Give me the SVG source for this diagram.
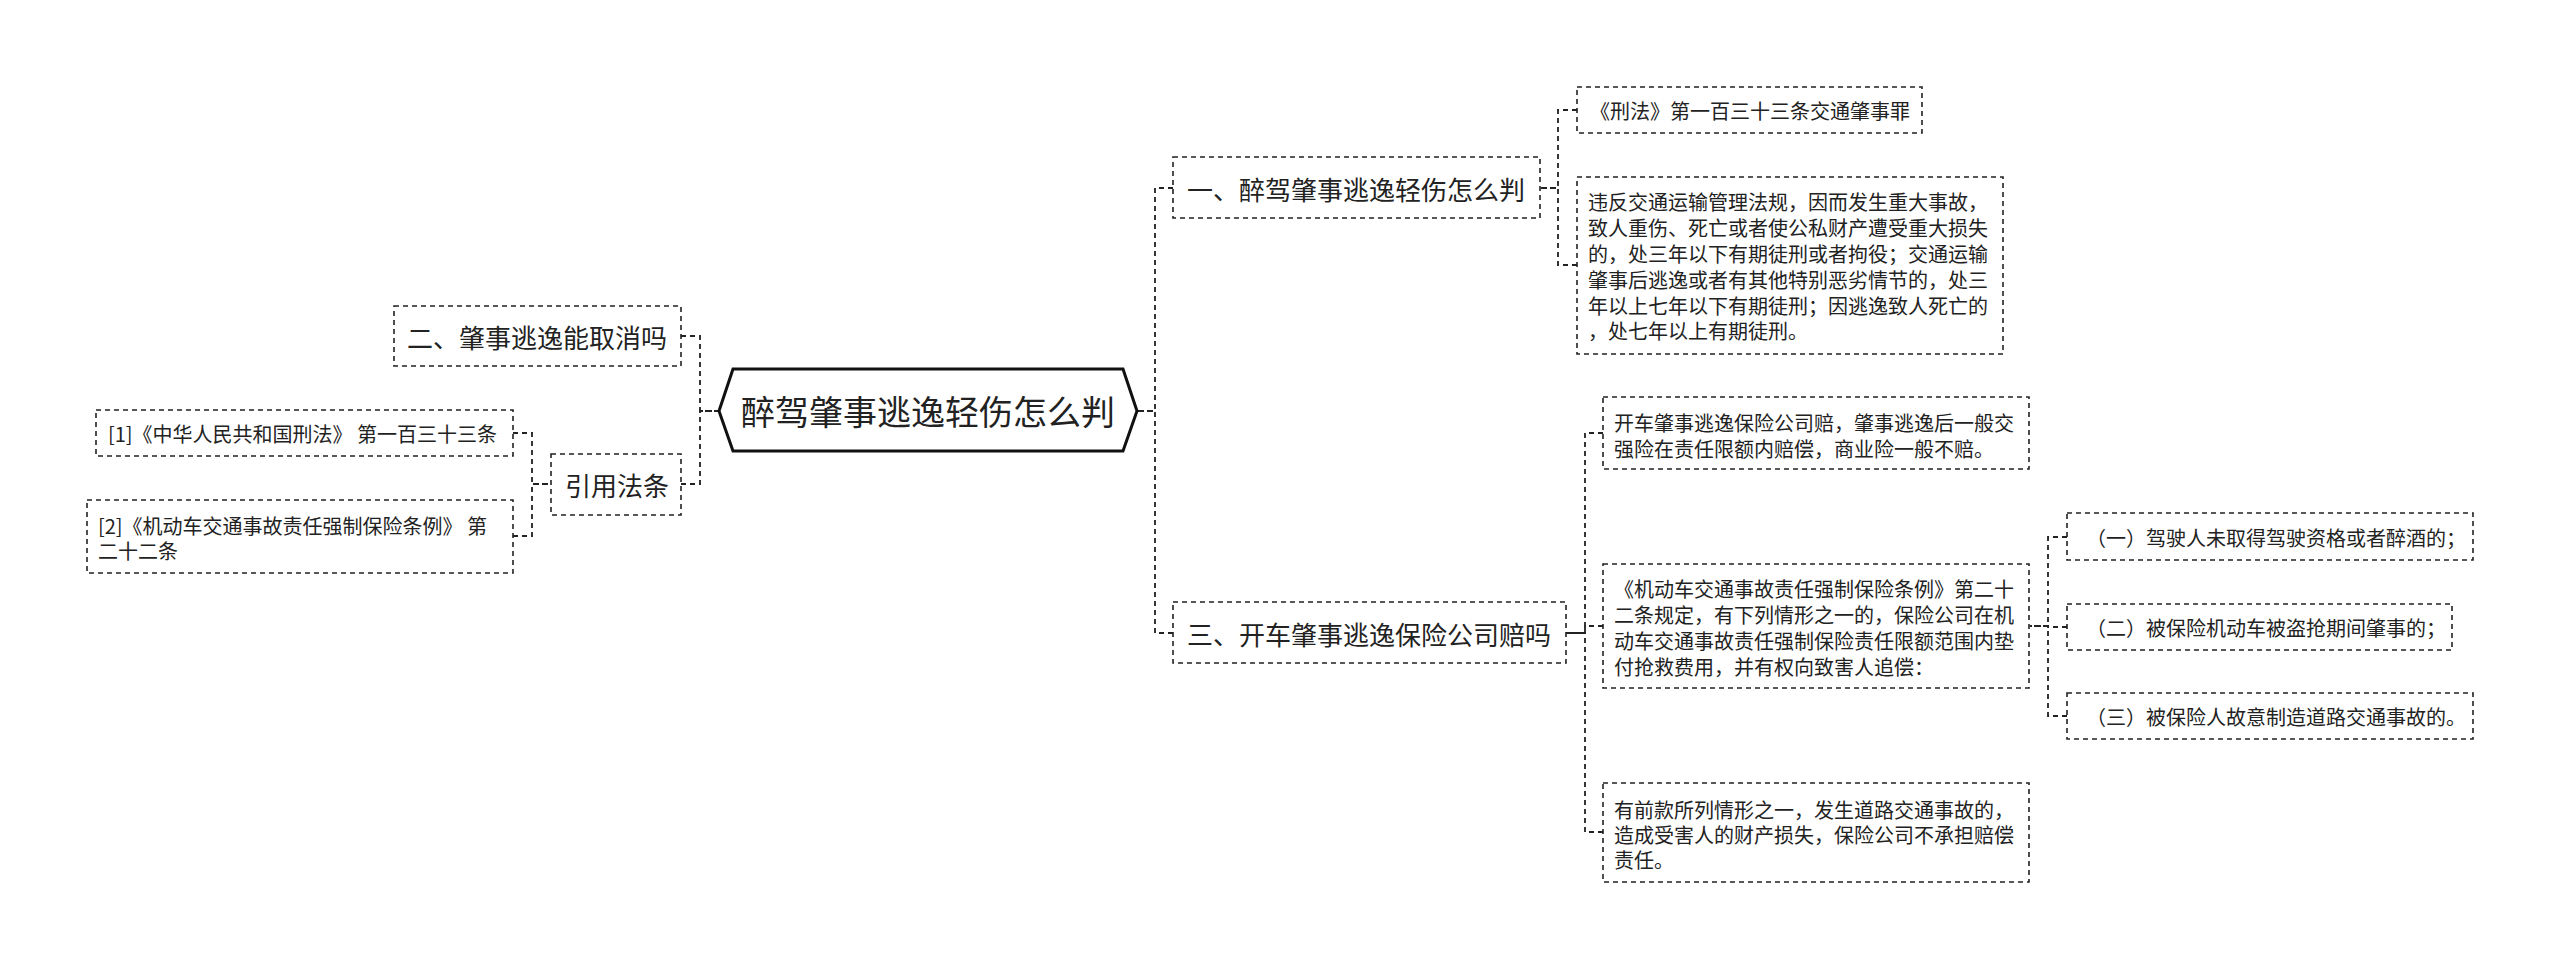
<svg xmlns="http://www.w3.org/2000/svg" width="2560" height="969" viewBox="0 0 2560 969">
<style>
.bg{fill:#ffffff}
.box{fill:#ffffff;stroke:#222;stroke-width:1.6;stroke-dasharray:5 4}
.root{fill:#ffffff;stroke:#111;stroke-width:3}
.conn{fill:none;stroke:#222;stroke-width:1.8;stroke-dasharray:5 4}
text{font-family:"Noto Sans CJK SC","Noto Sans",sans-serif;fill:#222;dominant-baseline:central}
.t34{font-size:34px}
.t26{font-size:26px}
.t20{font-size:20px}
</style>
<rect class="bg" x="0" y="0" width="2560" height="969"/>
<g id="connectors">
<path class="conn" d="M681,336 H700 V411 H719"/>
<path class="conn" d="M681,484 H700 V411 H719"/>
<path class="conn" d="M513,433 H532 V484 H551"/>
<path class="conn" d="M513,536 H532 V484 H551"/>
<path class="conn" d="M1173,188 H1155 V411 H1137"/>
<path class="conn" d="M1173,633 H1155 V411 H1137"/>
<path class="conn" d="M1577,110 H1558 V188 H1540"/>
<path class="conn" d="M1577,265 H1558 V188 H1540"/>
<path class="conn" d="M1603,433 H1585 V633 H1566"/>
<path class="conn" d="M1603,626 H1585 V633 H1566"/>
<path class="conn" d="M1603,832 H1585 V633 H1566"/>
<path class="conn" d="M2067,537 H2048 V626 H2030"/>
<path class="conn" d="M2067,627 H2048 V626 H2030"/>
<path class="conn" d="M2067,716 H2048 V626 H2030"/>
</g>
<g id="root">
<polygon class="root" points="719,411 733,369 1123,369 1137,411 1123,451 733,451"/>
<text class="t34" x="928" y="410" text-anchor="middle">醉驾肇事逃逸轻伤怎么判</text>
</g>
<g id="n-er">
<rect class="box" x="394" y="306" width="287" height="60"/>
<text class="t26" x="407" y="336">二、肇事逃逸能取消吗</text>
</g>
<g id="n-yinyong">
<rect class="box" x="551" y="454" width="130" height="61"/>
<text class="t26" x="565" y="484.5">引用法条</text>
</g>
<g id="n-ref1">
<rect class="box" x="96" y="410" width="417" height="46"/>
<text class="t20" x="108" y="433">[1]《中华人民共和国刑法》 第一百三十三条</text>
</g>
<g id="n-ref2">
<rect class="box" x="87" y="500" width="426" height="73"/>
<text class="t20" x="98" y="525">[2]《机动车交通事故责任强制保险条例》 第</text>
<text class="t20" x="98" y="550">二十二条</text>
</g>
<g id="n-yi">
<rect class="box" x="1173" y="157" width="367" height="61"/>
<text class="t26" x="1187" y="188">一、醉驾肇事逃逸轻伤怎么判</text>
</g>
<g id="n-xingfa">
<rect class="box" x="1577" y="87" width="345" height="46"/>
<text class="t20" x="1590" y="110">《刑法》第一百三十三条交通肇事罪</text>
</g>
<g id="n-weifan">
<rect class="box" x="1577" y="177" width="426" height="177"/>
<text class="t20" x="1588" y="201">违反交通运输管理法规，因而发生重大事故，</text>
<text class="t20" x="1588" y="227">致人重伤、死亡或者使公私财产遭受重大损失</text>
<text class="t20" x="1588" y="253">的，处三年以下有期徒刑或者拘役；交通运输</text>
<text class="t20" x="1588" y="279">肇事后逃逸或者有其他特别恶劣情节的，处三</text>
<text class="t20" x="1588" y="305">年以上七年以下有期徒刑；因逃逸致人死亡的</text>
<text class="t20" x="1588" y="330">，处七年以上有期徒刑。</text>
</g>
<g id="n-san">
<rect class="box" x="1173" y="602" width="393" height="61"/>
<text class="t26" x="1187" y="633">三、开车肇事逃逸保险公司赔吗</text>
</g>
<g id="n-kaiche">
<rect class="box" x="1603" y="397" width="426" height="72"/>
<text class="t20" x="1614" y="422">开车肇事逃逸保险公司赔，肇事逃逸后一般交</text>
<text class="t20" x="1614" y="448">强险在责任限额内赔偿，商业险一般不赔。</text>
</g>
<g id="n-tiaoli">
<rect class="box" x="1603" y="564" width="426" height="124"/>
<text class="t20" x="1614" y="588">《机动车交通事故责任强制保险条例》第二十</text>
<text class="t20" x="1614" y="614">二条规定，有下列情形之一的，保险公司在机</text>
<text class="t20" x="1614" y="640">动车交通事故责任强制保险责任限额范围内垫</text>
<text class="t20" x="1614" y="666">付抢救费用，并有权向致害人追偿：</text>
</g>
<g id="n-qiankuan">
<rect class="box" x="1603" y="783" width="426" height="99"/>
<text class="t20" x="1614" y="809">有前款所列情形之一，发生道路交通事故的，</text>
<text class="t20" x="1614" y="834">造成受害人的财产损失，保险公司不承担赔偿</text>
<text class="t20" x="1614" y="859">责任。</text>
</g>
<g id="n-item1">
<rect class="box" x="2067" y="513" width="406" height="47"/>
<text class="t20" x="2086" y="537">（一）驾驶人未取得驾驶资格或者醉酒的；</text>
</g>
<g id="n-item2">
<rect class="box" x="2067" y="604" width="385" height="46"/>
<text class="t20" x="2086" y="627">（二）被保险机动车被盗抢期间肇事的；</text>
</g>
<g id="n-item3">
<rect class="box" x="2067" y="693" width="406" height="46"/>
<text class="t20" x="2086" y="716">（三）被保险人故意制造道路交通事故的。</text>
</g>
</svg>
